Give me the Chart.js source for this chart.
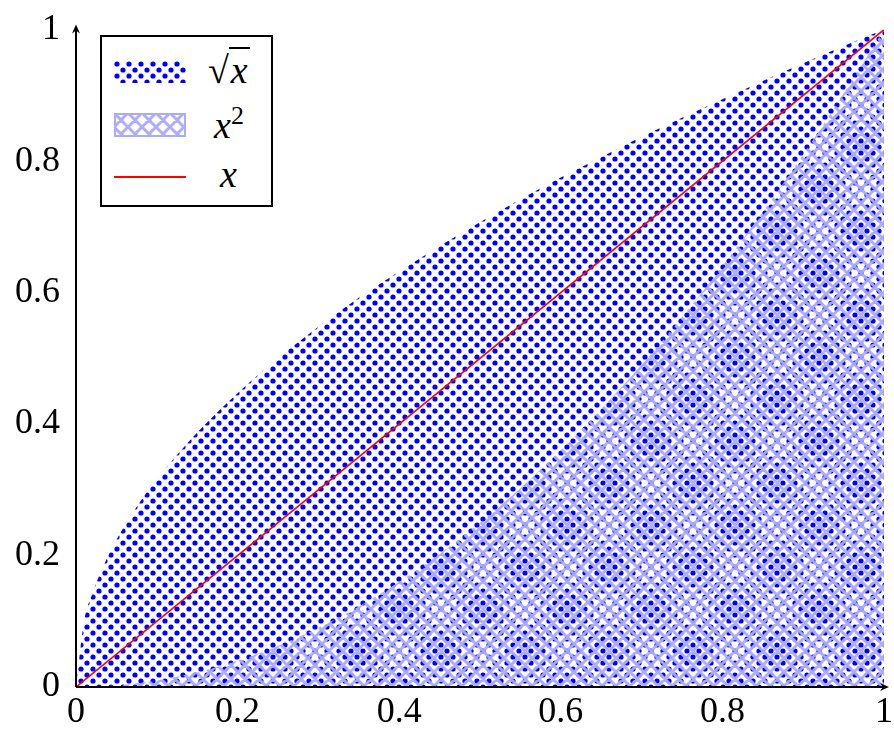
<!DOCTYPE html>
<html><head><meta charset="utf-8">
<script src="https://cdn.jsdelivr.net/npm/chart.js@4/dist/chart.umd.min.js"></script>
<style>
body{margin:0;background:#fff;}
#wrap{position:relative;width:894px;height:739px;}
#legend{position:absolute;left:100px;top:35px;width:169px;height:168px;border:2px solid #000;background:#fff;font-family:"Liberation Serif",serif;font-size:38px;}
.lab{position:absolute;font-style:italic;line-height:1;}
</style></head><body>
<div id="wrap"><canvas id="c" width="894" height="739"></canvas>
<div id="legend">
 <canvas id="s1" width="72" height="22" style="position:absolute;left:12px;top:24px"></canvas>
 <span class="lab" style="top:14px;left:106px"><span style="font-style:normal">√</span><span style="border-top:2px solid #000;padding:0 2px">x</span></span>
 <canvas id="s2" width="72" height="24" style="position:absolute;left:12px;top:76px"></canvas>
 <span class="lab" style="top:66px;left:112px">x<sup style="font-style:normal;font-size:26px">2</sup></span>
 <div style="position:absolute;left:12px;top:139px;width:72px;height:2px;background:#f00"></div>
 <span class="lab" style="top:118px;left:118px">x</span>
</div></div>
<script>
const xs=[0,0.01,0.02,0.04,0.06,0.08,0.1,0.15,0.2,0.25,0.3,0.35,0.4,0.45,0.5,0.55,0.6,0.65,0.7,0.75,0.8,0.85,0.9,0.95,1];
const sqrtVals=[0,0.1,0.141,0.2,0.245,0.283,0.316,0.387,0.447,0.5,0.548,0.592,0.632,0.671,0.707,0.742,0.775,0.806,0.837,0.866,0.894,0.922,0.949,0.975,1];
const sqVals=[0,0.0001,0.0004,0.0016,0.0036,0.0064,0.01,0.0225,0.04,0.0625,0.09,0.1225,0.16,0.2025,0.25,0.3025,0.36,0.4225,0.49,0.5625,0.64,0.7225,0.81,0.9025,1];
const linVals=[0,1];
const linXs=[0,1];
const tickVals=[0,0.2,0.4,0.6,0.8,1];

function dotPattern(ctx){
 const t=document.createElement('canvas');t.width=12;t.height=12;const g=t.getContext('2d');
 g.fillStyle='#0000ff';
 [[3,3],[9,9]].forEach(([x,y])=>{g.beginPath();g.arc(x,y,2.6,0,Math.PI*2);g.fill();});
 return ctx.createPattern(t,'repeat');
}
function hatchPattern(ctx){
 const t=document.createElement('canvas');t.width=14;t.height=14;const g=t.getContext('2d');
 g.strokeStyle='rgba(170,170,255,0.95)';g.lineWidth=3;
 g.beginPath();
 for(let k=-14;k<=28;k+=14){g.moveTo(k,0);g.lineTo(k+14,14);g.moveTo(k+14,0);g.lineTo(k,14);}
 g.stroke();
 return ctx.createPattern(t,'repeat');
}
const ctx=document.getElementById('c').getContext('2d');
const dp=dotPattern(ctx), hp=hatchPattern(ctx);
(function(){const a=document.getElementById('s1').getContext('2d');a.fillStyle=dotPattern(a);a.fillRect(0,0,72,22);
const b=document.getElementById('s2').getContext('2d');b.fillStyle=hatchPattern(b);b.fillRect(0,0,72,24);b.strokeStyle='rgba(170,170,255,1)';b.lineWidth=2;b.strokeRect(1,1,70,22);})();

const axisArrows={id:'axisArrows',afterDatasetsDraw(ch){
 const c=ch.ctx,a=ch.chartArea;c.save();c.strokeStyle='#000';c.fillStyle='#000';c.lineWidth=2;
 c.beginPath();c.moveTo(a.left,a.bottom);c.lineTo(a.left,a.top-2);c.moveTo(a.left,a.bottom);c.lineTo(a.right+2,a.bottom);c.stroke();
 c.beginPath();c.moveTo(a.left,a.top-5);c.lineTo(a.left-4,a.top+4);c.lineTo(a.left,a.top+1);c.lineTo(a.left+4,a.top+4);c.closePath();c.fill();
 c.beginPath();c.moveTo(a.right+5,a.bottom);c.lineTo(a.right-4,a.bottom-4);c.lineTo(a.right-1,a.bottom);c.lineTo(a.right-4,a.bottom+4);c.closePath();c.fill();
 c.restore();}};

const font={family:'"Liberation Serif", serif',size:36};
new Chart(ctx,{type:'scatter',
 data:{datasets:[
  {data:xs.map((x,i)=>({x,y:sqrtVals[i]})),showLine:true,fill:'origin',backgroundColor:dp,borderWidth:0,pointRadius:0,cubicInterpolationMode:'monotone',order:3},
  {data:xs.map((x,i)=>({x,y:sqVals[i]})),showLine:true,fill:'origin',backgroundColor:hp,borderWidth:0,pointRadius:0,cubicInterpolationMode:'monotone',order:2},
  {data:linXs.map((x,i)=>({x,y:linVals[i]})),showLine:true,fill:false,borderColor:'#ff0000',borderWidth:1.6,pointRadius:0,order:1}
 ]},
 options:{responsive:false,animation:false,events:[],
  layout:{padding:{top:17,right:10,left:0,bottom:0}},
  plugins:{legend:{display:false},tooltip:{enabled:false}},
  scales:{
   x:{type:'linear',min:0,max:1,grid:{display:false},border:{display:false},
      afterBuildTicks(s){s.ticks=tickVals.map(v=>({value:v}));},
      afterFit(s){s.height=52;},
      ticks:{font,color:'#000',padding:-4,callback:v=>String(v)}},
   y:{type:'linear',min:0,max:1,grid:{display:false},border:{display:false},
      afterBuildTicks(s){s.ticks=tickVals.map(v=>({value:v}));},
      afterFit(s){s.width=76;},
      ticks:{font,color:'#000',padding:8,callback:v=>String(v)}}
  }},
 plugins:[axisArrows]});
</script></body></html>
